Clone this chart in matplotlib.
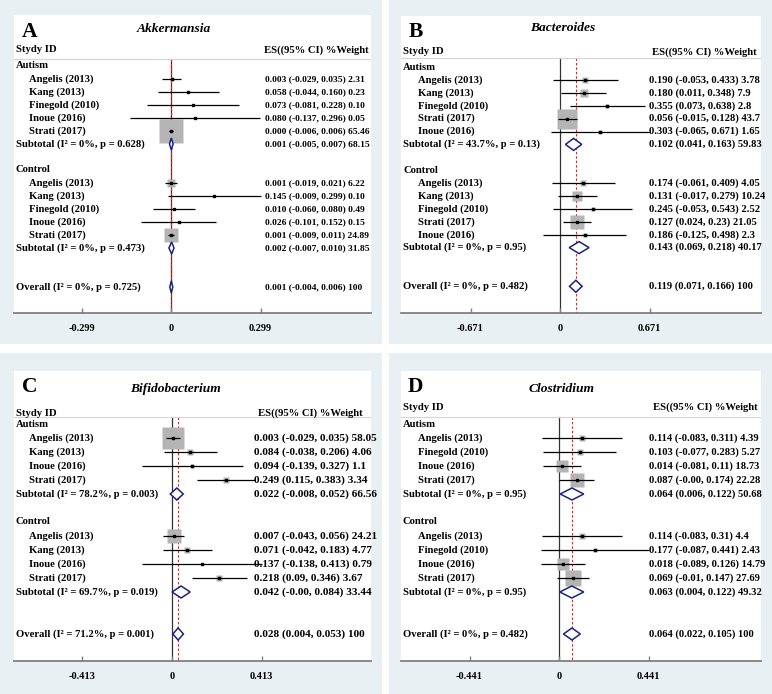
import numpy as np
import matplotlib
matplotlib.use("Agg")
import matplotlib.pyplot as plt
from matplotlib.patches import Polygon

# ---------------- data ----------------
# Panel A : Akkermansia
A_title = "Akkermansia"
A_tick = "0.299"
A_aut_names = ["Angelis (2013)", "Kang (2013)", "Finegold (2010)", "Inoue (2016)", "Strati (2017)"]
A_aut_es = ["0.003", "0.058", "0.073", "0.080", "0.000"]
A_aut_lo = ["-0.029", "-0.044", "-0.081", "-0.137", "-0.006"]
A_aut_hi = ["0.035", "0.160", "0.228", "0.296", "0.006"]
A_aut_w = ["2.31", "0.23", "0.10", "0.05", "65.46"]
A_aut_sub = ["0.001", "-0.005", "0.007", "68.15", "0%", "0.628"]
A_ctl_names = ["Angelis (2013)", "Kang (2013)", "Finegold (2010)", "Inoue (2016)", "Strati (2017)"]
A_ctl_es = ["0.001", "0.145", "0.010", "0.026", "0.001"]
A_ctl_lo = ["-0.019", "-0.009", "-0.060", "-0.101", "-0.009"]
A_ctl_hi = ["0.021", "0.299", "0.080", "0.152", "0.011"]
A_ctl_w = ["6.22", "0.10", "0.49", "0.15", "24.89"]
A_ctl_sub = ["0.002", "-0.007", "0.010", "31.85", "0%", "0.473"]
A_overall = ["0.001", "-0.004", "0.006", "100", "0%", "0.725"]

# Panel B : Bacteroides
B_title = "Bacteroides"
B_tick = "0.671"
B_aut_names = ["Angelis (2013)", "Kang (2013)", "Finegold (2010)", "Strati (2017)", "Inoue (2016)"]
B_aut_es = ["0.190", "0.180", "0.355", "0.056", "0.303"]
B_aut_lo = ["-0.053", "0.011", "0.073", "-0.015", "-0.065"]
B_aut_hi = ["0.433", "0.348", "0.638", "0.128", "0.671"]
B_aut_w = ["3.78", "7.9", "2.8", "43.7", "1.65"]
B_aut_sub = ["0.102", "0.041", "0.163", "59.83", "43.7%", "0.13"]
B_ctl_names = ["Angelis (2013)", "Kang (2013)", "Finegold (2010)", "Strati (2017)", "Inoue (2016)"]
B_ctl_es = ["0.174", "0.131", "0.245", "0.127", "0.186"]
B_ctl_lo = ["-0.061", "-0.017", "-0.053", "0.024", "-0.125"]
B_ctl_hi = ["0.409", "0.279", "0.543", "0.23", "0.498"]
B_ctl_w = ["4.05", "10.24", "2.52", "21.05", "2.3"]
B_ctl_sub = ["0.143", "0.069", "0.218", "40.17", "0%", "0.95"]
B_overall = ["0.119", "0.071", "0.166", "100", "0%", "0.482"]

# Panel C : Bifidobacterium
C_title = "Bifidobacterium"
C_tick = "0.413"
C_aut_names = ["Angelis (2013)", "Kang (2013)", "Inoue (2016)", "Strati (2017)"]
C_aut_es = ["0.003", "0.084", "0.094", "0.249"]
C_aut_lo = ["-0.029", "-0.038", "-0.139", "0.115"]
C_aut_hi = ["0.035", "0.206", "0.327", "0.383"]
C_aut_w = ["58.05", "4.06", "1.1", "3.34"]
C_aut_sub = ["0.022", "-0.008", "0.052", "66.56", "78.2%", "0.003"]
C_ctl_names = ["Angelis (2013)", "Kang (2013)", "Inoue (2016)", "Strati (2017)"]
C_ctl_es = ["0.007", "0.071", "0.137", "0.218"]
C_ctl_lo = ["-0.043", "-0.042", "-0.138", "0.09"]
C_ctl_hi = ["0.056", "0.183", "0.413", "0.346"]
C_ctl_w = ["24.21", "4.77", "0.79", "3.67"]
C_ctl_sub = ["0.042", "-0.00", "0.084", "33.44", "69.7%", "0.019"]
C_overall = ["0.028", "0.004", "0.053", "100", "71.2%", "0.001"]

# Panel D : Clostridium
D_title = "Clostridium"
D_tick = "0.441"
D_aut_names = ["Angelis (2013)", "Finegold (2010)", "Inoue (2016)", "Strati (2017)"]
D_aut_es = ["0.114", "0.103", "0.014", "0.087"]
D_aut_lo = ["-0.083", "-0.077", "-0.081", "-0.00"]
D_aut_hi = ["0.311", "0.283", "0.11", "0.174"]
D_aut_w = ["4.39", "5.27", "18.73", "22.28"]
D_aut_sub = ["0.064", "0.006", "0.122", "50.68", "0%", "0.95"]
D_ctl_names = ["Angelis (2013)", "Finegold (2010)", "Inoue (2016)", "Strati (2017)"]
D_ctl_es = ["0.114", "0.177", "0.018", "0.069"]
D_ctl_lo = ["-0.083", "-0.087", "-0.089", "-0.01"]
D_ctl_hi = ["0.31", "0.441", "0.126", "0.147"]
D_ctl_w = ["4.4", "2.43", "14.79", "27.69"]
D_ctl_sub = ["0.063", "0.004", "0.122", "49.32", "0%", "0.95"]
D_overall = ["0.064", "0.022", "0.105", "100", "0%", "0.482"]

group_labels = ["Autism", "Control"]
header_left = "Stydy ID"
header_right = "ES((95% CI) %Weight"

# ---------------- style ----------------
W, H = 772, 694
BG = "#e9f0f3"
SERIF = ["Liberation Serif", "DejaVu Serif"]
DIAMOND = "#1a237e"
SQUARE = "#b4b4b4"
TICK_PX = 89.5

fig = plt.figure(figsize=(W / 100, H / 100), dpi=100, facecolor="white")


def draw_panel(letter, title, tick, groups, overall, box, white, lay):
    bx0, by0, bx1, by1 = box
    bgax = fig.add_axes([bx0 / W, 1 - by1 / H, (bx1 - bx0) / W, (by1 - by0) / H], zorder=-5)
    bgax.set_facecolor(BG)
    bgax.set_xticks([])
    bgax.set_yticks([])
    for s in bgax.spines.values():
        s.set_visible(False)
    x0, y0, x1, y1 = white
    ax = fig.add_axes([x0 / W, 1 - y1 / H, (x1 - x0) / W, (y1 - y0) / H], zorder=1)
    ax.set_facecolor("white")
    t = float(tick)
    scale = TICK_PX / t
    zero = lay["zero"]
    h = y1 - y0
    ax.set_xlim(-zero / scale, (x1 - x0 - zero) / scale)
    ax.set_ylim(h, 0)

    def X(off):
        return (off - zero) / scale

    for s in ["left", "top", "right"]:
        ax.spines[s].set_visible(False)
    ax.spines["bottom"].set_color("#808080")
    ax.spines["bottom"].set_linewidth(1.3)
    ax.set_yticks([])
    ax.set_xticks([-t, 0, t])
    ax.set_xticklabels(["-" + tick, "0", tick], fontfamily=SERIF, fontweight="bold", fontsize=7.5)
    ax.tick_params(axis="x", direction="in", length=3.5, width=1, color="#808080", pad=8)

    # letter, title, header
    ax.text(X(lay["letter_x"]), lay["letter_y"], letter, fontfamily=SERIF, fontweight="bold",
            fontsize=15.5, ha="left", va="center")
    ax.text(X(zero + 3), lay["title_y"], title, fontfamily=SERIF, fontweight="bold",
            fontstyle="italic", fontsize=9.7, ha="center", va="center")
    ax.text(X(2), lay["head_y"], header_left, fontfamily=SERIF, fontweight="bold",
            fontsize=7.7, ha="left", va="center")
    ax.text(X(lay["head_r"]), lay["head_y"], header_right, fontfamily=SERIF, fontweight="bold",
            fontsize=7.7, ha="right", va="center")
    ax.plot([X(0), X(x1 - x0)], [lay["hline"], lay["hline"]], color="#d4d4d4", lw=0.8)

    es_fs = lay["es_fs"]
    ya, r = lay["aut"], lay["row"]
    n = len(groups[0][0])
    # reference lines
    ov_es = float(overall[0])
    ax.plot([0, 0], [lay["hline"], h], color="#333333", lw=0.9, zorder=1)
    ax.plot([ov_es, ov_es], [lay["hline"], h], color="#e8221e", lw=0.8,
            dashes=(2.2, 1.8), zorder=1.5)

    def diamond(vals, y, label):
        es_, lo_, hi_, w_ = float(vals[0]), float(vals[1]), float(vals[2]), vals[3]
        poly = Polygon([(lo_, y), (es_, y - 6), (hi_, y), (es_, y + 6)], closed=True,
                       facecolor="white", edgecolor=DIAMOND, lw=1.1, zorder=4)
        ax.add_patch(poly)
        ax.text(X(2), y, label, fontfamily=SERIF, fontweight="bold", fontsize=7.7,
                ha="left", va="center")
        ax.text(X(lay["es_x"]), y, f"{vals[0]} ({vals[1]}, {vals[2]}) {w_}", fontfamily=SERIF,
                fontweight="bold", fontsize=es_fs, ha="left", va="center")

    for gi, (names, es, lo, hi, w, sub) in enumerate(groups):
        base = ya + gi * r * (n + 3)
        ax.text(X(2), base, group_labels[gi], fontfamily=SERIF, fontweight="bold",
                fontsize=7.7, ha="left", va="center")
        for i in range(n):
            y = base + r * (i + 1)
            e, l, u, ww = float(es[i]), float(lo[i]), float(hi[i]), float(w[i])
            side_pt = 2.09 * np.sqrt(ww)
            ax.plot([e], [y], marker="s", markersize=side_pt, color=SQUARE, mec="none", zorder=2)
            ax.plot([l, u], [y, y], color="black", lw=0.9, zorder=3, solid_capstyle="butt")
            ax.plot([e], [y], marker="s", markersize=1.6, color="black", zorder=3.5)
            ax.text(X(lay["lab_x"]), y, names[i], fontfamily=SERIF, fontweight="bold",
                    fontsize=7.7, ha="left", va="center")
            ax.text(X(lay["es_x"]), y, f"{es[i]} ({lo[i]}, {hi[i]}) {w[i]}", fontfamily=SERIF,
                    fontweight="bold", fontsize=es_fs, ha="left", va="center")
        ys = base + r * (n + 1)
        diamond(sub[:4], ys, f"Subtotal (I\u00b2 = {sub[4]}, p = {sub[5]})")
    yo = ya + r * (2 * n + 7)
    diamond(overall[:4], yo, f"Overall (I\u00b2 = {overall[4]}, p = {overall[5]})")


panels = [
    ("A", A_title, A_tick,
     [(A_aut_names, A_aut_es, A_aut_lo, A_aut_hi, A_aut_w, A_aut_sub),
      (A_ctl_names, A_ctl_es, A_ctl_lo, A_ctl_hi, A_ctl_w, A_ctl_sub)], A_overall,
     (0, 0, 382, 344), (14, 15, 371, 313),
     dict(zero=157, letter_x=8, letter_y=17, title_y=14, head_y=35, head_r=355, hline=44,
          aut=51, row=13, lab_x=15, es_x=251, es_fs=6.8)),
    ("B", B_title, B_tick,
     [(B_aut_names, B_aut_es, B_aut_lo, B_aut_hi, B_aut_w, B_aut_sub),
      (B_ctl_names, B_ctl_es, B_ctl_lo, B_ctl_hi, B_ctl_w, B_ctl_sub)], B_overall,
     (389, 0, 772, 344), (401, 16, 761, 313),
     dict(zero=159, letter_x=8, letter_y=16, title_y=12, head_y=36, head_r=356, hline=42,
          aut=51, row=12.9, lab_x=17, es_x=248, es_fs=7.6)),
    ("C", C_title, C_tick,
     [(C_aut_names, C_aut_es, C_aut_lo, C_aut_hi, C_aut_w, C_aut_sub),
      (C_ctl_names, C_ctl_es, C_ctl_lo, C_ctl_hi, C_ctl_w, C_ctl_sub)], C_overall,
     (0, 353, 382, 694), (14, 371, 371, 661),
     dict(zero=158, letter_x=8, letter_y=16, title_y=18, head_y=42, head_r=349, hline=46,
          aut=53, row=14, lab_x=15, es_x=240, es_fs=8.1)),
    ("D", D_title, D_tick,
     [(D_aut_names, D_aut_es, D_aut_lo, D_aut_hi, D_aut_w, D_aut_sub),
      (D_ctl_names, D_ctl_es, D_ctl_lo, D_ctl_hi, D_ctl_w, D_ctl_sub)], D_overall,
     (389, 353, 772, 694), (401, 371, 761, 661),
     dict(zero=158, letter_x=7, letter_y=16, title_y=18, head_y=36, head_r=357, hline=46,
          aut=53, row=14, lab_x=17, es_x=248, es_fs=7.6)),
]

for p in panels:
    draw_panel(*p)

fig.savefig("out.png", dpi=100, facecolor="white")
